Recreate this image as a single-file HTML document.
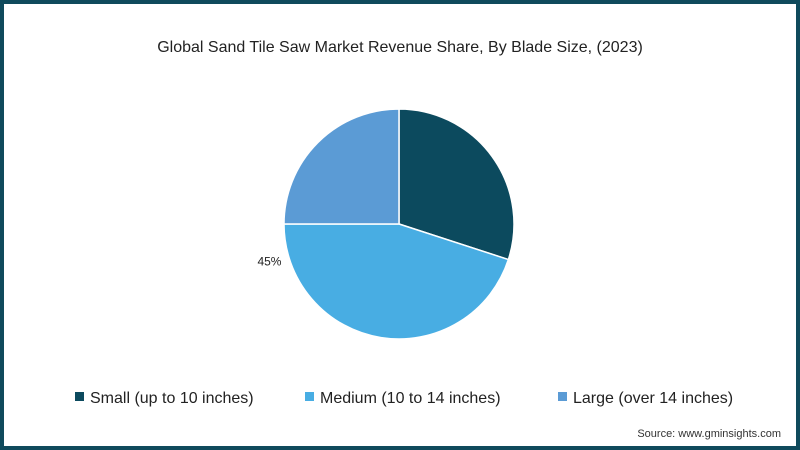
<!DOCTYPE html>
<html><head><meta charset="utf-8"><style>
html,body{margin:0;padding:0}
body{width:800px;height:450px;overflow:hidden;font-family:"Liberation Sans",sans-serif}
#frame{position:absolute;left:0;top:0;width:792px;height:442px;border:4px solid #0f4a5c;background:#fff}
</style></head><body>
<div id="frame"></div>
<svg width="800" height="450" style="position:absolute;left:0;top:0">
<text x="400" y="52" text-anchor="middle" font-size="16" fill="#222">Global Sand Tile Saw Market Revenue Share, By Blade Size, (2023)</text>
<g id="pie"></g>
<g id="legend"></g>
<text x="781" y="437" text-anchor="end" font-size="11" fill="#333">Source: www.gminsights.com</text>
</svg>
<script>
const categories=["Small (up to 10 inches)","Medium (10 to 14 inches)","Large (over 14 inches)"];
const values=[30,45,25];
const labels=["","45%",""];
const colors=["#0c4a5e","#48ade3","#5b9bd5"];
const ns="http://www.w3.org/2000/svg";
const cx=399,cy=224,r=115;
const pie=document.getElementById('pie');
const total=values.reduce((a,b)=>a+b,0);
let a0=0;
values.forEach((v,i)=>{
  const a1=a0+v/total*2*Math.PI;
  const x0=cx+r*Math.sin(a0),y0=cy-r*Math.cos(a0),x1=cx+r*Math.sin(a1),y1=cy-r*Math.cos(a1);
  const p=document.createElementNS(ns,'path');
  p.setAttribute('d',`M${cx},${cy}L${x0},${y0}A${r},${r} 0 ${a1-a0>Math.PI?1:0} 1 ${x1},${y1}Z`);
  p.setAttribute('fill',colors[i]);p.setAttribute('stroke','#fff');p.setAttribute('stroke-width','1.5');
  
  
  pie.appendChild(p);
  if(labels[i]){
    const m=a1-0.3;
    const t=document.createElementNS(ns,'text');
    t.setAttribute('x',cx+(r+8)*Math.sin(m));t.setAttribute('y',cy-(r+8)*Math.cos(m)+5);
    t.setAttribute('text-anchor','end');t.setAttribute('font-size','12');t.setAttribute('fill','#222');
    t.textContent=labels[i];
    
    
    pie.appendChild(t);
  }
  a0=a1;
});
const lx=[75,305,558];
const lg=document.getElementById('legend');
categories.forEach((c,i)=>{
  const rc=document.createElementNS(ns,'rect');
  rc.setAttribute('x',lx[i]);rc.setAttribute('y',392);rc.setAttribute('width',9);rc.setAttribute('height',9);rc.setAttribute('fill',colors[i]);
  
  
  lg.appendChild(rc);
  const t=document.createElementNS(ns,'text');
  t.setAttribute('x',lx[i]+15);t.setAttribute('y',403);t.setAttribute('font-size','16');t.setAttribute('fill','#222');
  t.textContent=c;
  
  
  lg.appendChild(t);
});
</script>
</body></html>
